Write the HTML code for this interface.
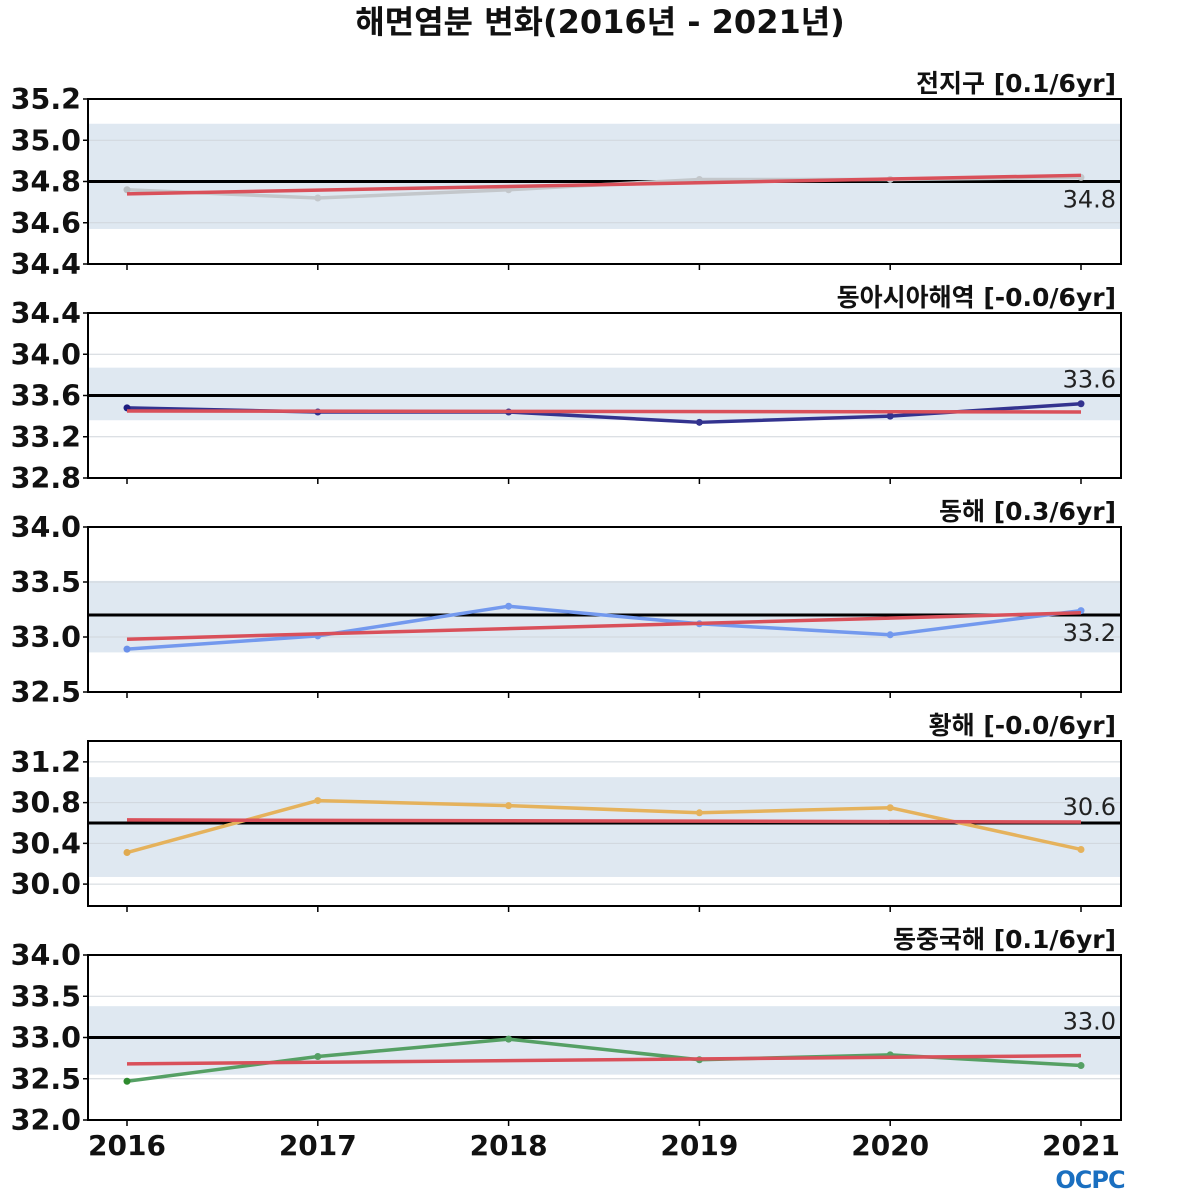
<!DOCTYPE html>
<html><head><meta charset="utf-8"><style>
html,body{margin:0;padding:0;background:#fff;}
svg{display:block;}
</style></head><body>
<svg id="chart" width="1200" height="1200" xmlns="http://www.w3.org/2000/svg">
<text x="600" y="33" text-anchor="middle" font-family="'DejaVu Sans','Noto Sans CJK KR',sans-serif" font-size="32" font-weight="bold" fill="#111">해면염분 변화(2016년 - 2021년)</text>
<g><text x="1090" y="1188" text-anchor="middle" font-family="'DejaVu Sans',sans-serif" font-size="24" font-weight="bold" fill="#1a6fc0" letter-spacing="-1">OCPC</text></g>
</svg>
<script>
const years = [2016, 2017, 2018, 2019, 2020, 2021];
const panelTitles = ['전지구 [0.1/6yr]', '동아시아해역 [-0.0/6yr]', '동해 [0.3/6yr]', '황해 [-0.0/6yr]', '동중국해 [0.1/6yr]'];
const series0 = [34.76, 34.72, 34.76, 34.81, 34.81, 34.82];
const series1 = [33.48, 33.44, 33.44, 33.34, 33.40, 33.52];
const series2 = [32.89, 33.01, 33.28, 33.12, 33.02, 33.24];
const series3 = [30.31, 30.82, 30.77, 30.70, 30.75, 30.34];
const series4 = [32.47, 32.77, 32.98, 32.73, 32.79, 32.66];
const trendStart = [34.74, 33.45, 32.98, 30.63, 32.68];
const trendEnd = [34.83, 33.44, 33.22, 30.61, 32.78];
const means = [34.8, 33.6, 33.2, 30.6, 33.0];
const meanLabels = ['34.8', '33.6', '33.2', '30.6', '33.0'];
const bandLow = [34.57, 33.36, 32.86, 30.07, 32.55];
const bandHigh = [35.08, 33.87, 33.51, 31.05, 33.38];
const yMin = [34.4, 32.8, 32.5, 29.785, 32.0];
const yMax = [35.2, 34.4, 34.0, 31.405, 34.0];
const yTicks0 = [34.4, 34.6, 34.8, 35.0, 35.2];
const yTicks1 = [32.8, 33.2, 33.6, 34.0, 34.4];
const yTicks2 = [32.5, 33.0, 33.5, 34.0];
const yTicks3 = [30.0, 30.4, 30.8, 31.2];
const yTicks4 = [32.0, 32.5, 33.0, 33.5, 34.0];

const allSeries = [series0, series1, series2, series3, series4];
const allTicks = [yTicks0, yTicks1, yTicks2, yTicks3, yTicks4];
const colors = ['#c3c7cb', '#33338f', '#7399ee', '#e5b25c', '#55a064'];
const firstColors = ['#b8bcc0', '#1c1c80', '#6a90ea', '#e0aa50', '#2e8b2e'];
const NS = 'http://www.w3.org/2000/svg';
const svg = document.getElementById('chart');
const L = 88, R = 1121, panelTops = [99, 313, 527, 741, 955], PH = 165;
const FONT = "'DejaVu Sans','Noto Sans CJK KR',sans-serif";
function xScale(i) { return 127 + (1081 - 127) * i / (years.length - 1); }
function mk(tag, attrs, parent) { const e = document.createElementNS(NS, tag); for (const k in attrs) e.setAttribute(k, attrs[k]); (parent || svg).appendChild(e); return e; }

for (let p = 0; p < 5; p++) {
  const top = panelTops[p], bot = top + PH;
  const yS = v => bot - (v - yMin[p]) / (yMax[p] - yMin[p]) * PH;
  const g = mk('g', {});
  
  
  const band = mk('rect', { x: L, y: yS(bandHigh[p]), width: R - L, height: yS(bandLow[p]) - yS(bandHigh[p]), fill: '#dfe8f1' }, g);
  
  
  allTicks[p].forEach(t => {
    const y = yS(t);
    if (y > top + 2 && y < bot - 2) {
      const gl = mk('line', { x1: L, x2: R, y1: y, y2: y, stroke: '#d0d6dc', 'stroke-width': 1 }, g);
      
      
    }
    mk('line', { x1: L - 5, x2: L, y1: y, y2: y, stroke: '#000', 'stroke-width': 1.5 }, g);
    const tl = mk('text', { x: 81, y: y + 10, 'text-anchor': 'end', 'font-family': FONT, 'font-size': 28.5, 'font-weight': 'bold', fill: '#111' }, g);
    tl.textContent = t.toFixed(1);
    
    
  });
  years.forEach((yr, i) => { mk('line', { x1: xScale(i), x2: xScale(i), y1: bot, y2: bot + 6, stroke: '#000', 'stroke-width': 1.5 }, g); });
  const ml = mk('line', { x1: L, x2: R, y1: yS(means[p]), y2: yS(means[p]), stroke: '#000', 'stroke-width': 3 }, g);
  
  
  const mt = mk('text', { x: 1116, y: yS(means[p]) + (p === 0 || p === 2 ? 26 : -8), 'text-anchor': 'end', 'font-family': FONT, 'font-size': 24, fill: '#222' }, g);
  mt.textContent = meanLabels[p];
  
  
  const pts = allSeries[p].map((v, i) => xScale(i) + ',' + yS(v)).join(' ');
  const pl = mk('polyline', { points: pts, fill: 'none', stroke: colors[p], 'stroke-width': 3.5, 'stroke-linejoin': 'round' }, g);
  
  
  allSeries[p].forEach((v, i) => {
    const c = mk('circle', { cx: xScale(i), cy: yS(v), r: 3.5, fill: i === 0 ? firstColors[p] : colors[p] }, g);
    
    
  });
  const tr = mk('line', { x1: xScale(0), x2: xScale(5), y1: yS(trendStart[p]), y2: yS(trendEnd[p]), stroke: '#d9505a', 'stroke-width': 3.5 }, g);
  
  
  const fr = mk('rect', { x: L, y: top, width: R - L, height: PH, fill: 'none', stroke: '#000', 'stroke-width': 2 }, g);
  
  
  const pt = mk('text', { x: 1116, y: top - 7, 'text-anchor': 'end', 'font-family': FONT, 'font-size': 25, 'font-weight': 'bold', fill: '#111' }, g);
  pt.textContent = panelTitles[p];
  
  
}
years.forEach((yr, i) => {
  const t = mk('text', { x: xScale(i), y: 1155, 'text-anchor': 'middle', 'font-family': FONT, 'font-size': 28, 'font-weight': 'bold', fill: '#111' });
  t.textContent = yr;
  
  
});
</script>
</body></html>
